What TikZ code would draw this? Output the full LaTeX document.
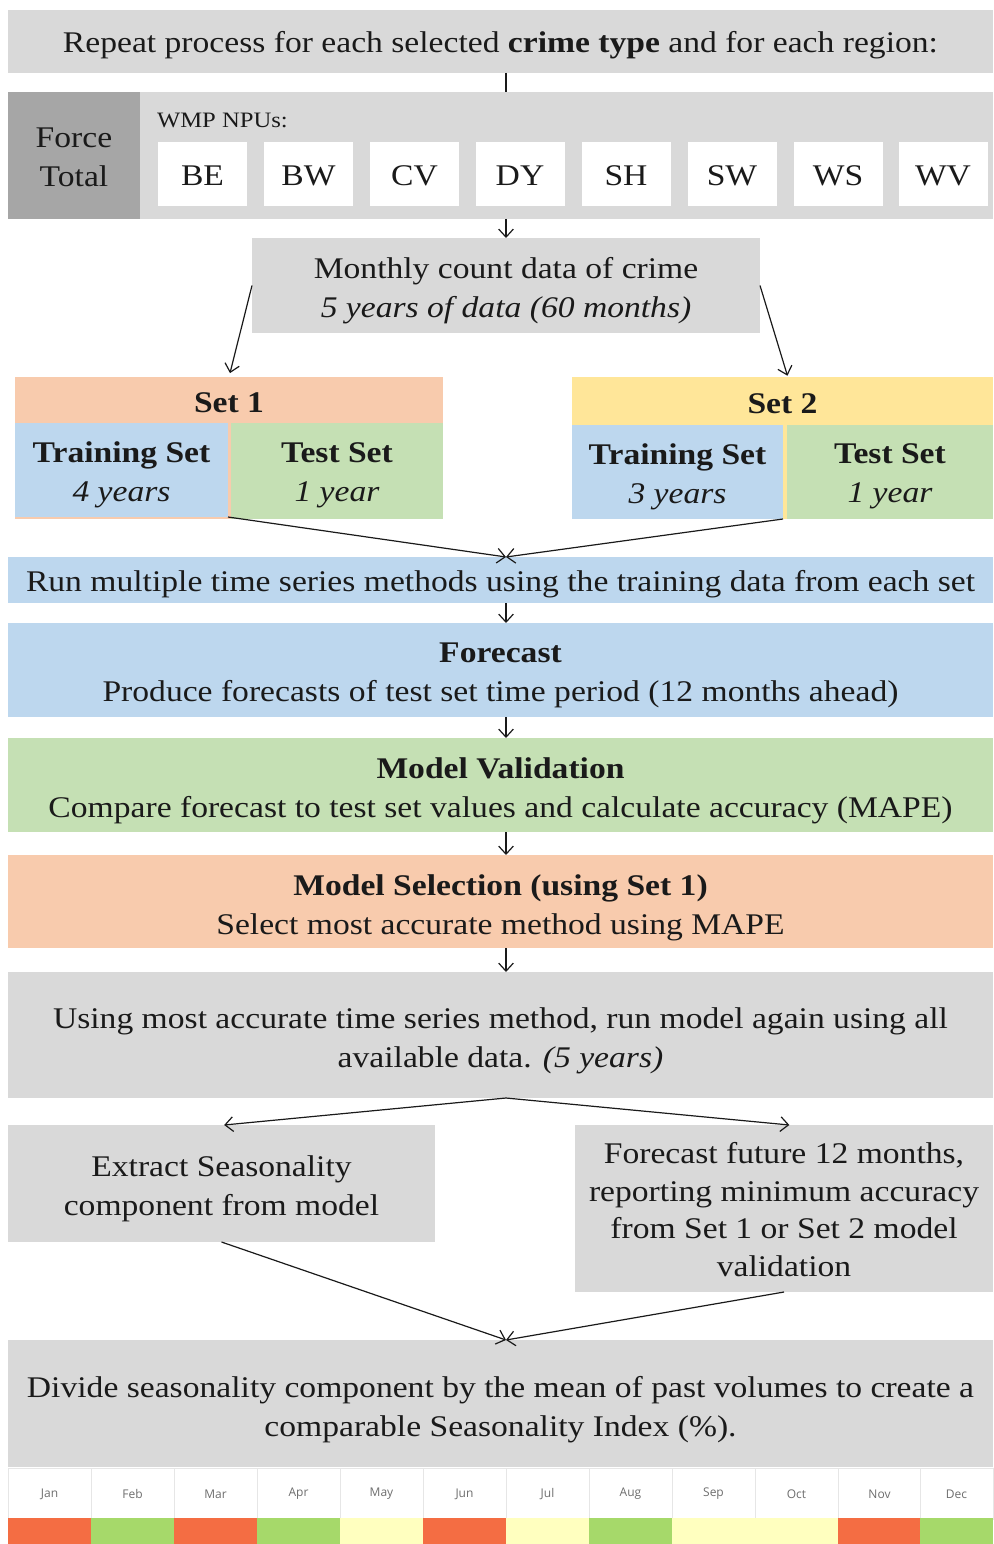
\documentclass[tikz,border=0pt]{standalone}
\usepackage{fontspec}
\setmainfont{Liberation Serif}[FakeStretch=1.12]
\newfontfamily\monthfont{Open Sans}
\usetikzlibrary{arrows.meta,calc}
\definecolor{lgray}{HTML}{D9D9D9}
\definecolor{dgray}{HTML}{A6A6A6}
\definecolor{peach}{HTML}{F8CBAD}
\definecolor{lblue}{HTML}{BDD7EE}
\definecolor{lgreen}{HTML}{C5E0B4}
\definecolor{lyellow}{HTML}{FFE699}
\definecolor{cred}{HTML}{F46D43}
\definecolor{cgreen}{HTML}{A6D96A}
\definecolor{cyel}{HTML}{FFFFBF}
\definecolor{ink}{HTML}{1A1A1A}
\definecolor{mgray}{HTML}{6E6E6E}
\definecolor{cellline}{HTML}{E6E6E6}
\newcommand{\mainsz}{\fontsize{22.5}{29.25}\selectfont}
\tikzset{
  box/.style={inner sep=0pt, outer sep=0pt},
  t/.style={inner sep=0pt, outer sep=0pt, align=center, text=ink, font=\mainsz, yshift=#1},
  t/.default=-3.75pt,
  arr/.style={draw=ink, line width=0.9pt, -{Straight Barb[length=6pt,width=11pt,line width=0.9pt]}},
  plain/.style={draw=ink, line width=0.9pt},
  npubox/.style={box, fill=white, minimum width=66.75pt, minimum height=48pt},
  monthcell/.style={inner sep=0pt, outer sep=0pt, fill=white, draw=cellline, line width=0.6pt, minimum height=38.25pt, font=\monthfont\fontsize{9}{10}\selectfont, text=mgray},
  colcell/.style={inner sep=0pt, outer sep=0pt, minimum height=19.5pt}
}
\begin{document}
\begin{tikzpicture}[x=0.75pt,y=-0.75pt]
\useasboundingbox (0,0) rectangle (993,1544);
% top
\node[box, fill=lgray, minimum width=738.75pt, minimum height=47.25pt] (top) at (500.5,41.5) {};
\node[t=-3pt] (top-t) at (top) {Repeat process for each selected \textbf{crime type} and for each region:};
% force / npu
\node[box, fill=dgray, minimum width=99pt, minimum height=95.25pt] (force) at (74,155.5) {};
\node[t=-1.5pt] (force-t) at (force) {Force\\Total};
\node[box, fill=lgray, minimum width=639.75pt, minimum height=95.25pt] (npu) at (566.5,155.5) {};
\node[t=0pt, anchor=west, font=\fontsize{16.5}{18}\selectfont] (wmp) at (157,120) {WMP NPUs:};
\foreach \n/\x in {BE/202.5,BW/308.5,CV/414.5,DY/520,SH/626,SW/732,WS/838,WV/943}{
  \node[npubox] (\n) at (\x,174) {};
  \node[t=-1.5pt] (\n-t) at (\n) {\n};
}
% monthly
\node[box, fill=lgray, minimum width=381pt, minimum height=71.25pt] (monthly) at (506,285.5) {};
\node[t] (monthly-t) at (monthly) {Monthly count data of crime\\\textit{5 years of data (60 months)}};
% set 1
\fill[peach] (15,377) rectangle (443,519);
\node[box, fill=peach, minimum width=321pt, minimum height=34.5pt] (s1h) at (229,400) {};
\node[t=-2.25pt] (s1h-t) at (s1h) {\textbf{Set 1}};
\node[box, fill=lblue, minimum width=159.75pt, minimum height=70.5pt] (train1) at (121.5,470) {};
\node[t=-3.4pt] (train1-t) at (train1) {\textbf{Training Set}\\\textit{4 years}};
\node[box, fill=lgreen, minimum width=159pt, minimum height=72pt] (test1) at (337,471) {};
\node[t=-3.4pt] (test1-t) at (test1) {\textbf{Test Set}\\\textit{1 year}};
% set 2
\fill[lyellow] (572,377) rectangle (993,519);
\node[box, fill=lyellow, minimum width=315.75pt, minimum height=36pt] (s2h) at (782.5,401) {};
\node[t=-2.25pt] (s2h-t) at (s2h) {\textbf{Set 2}};
\node[box, fill=lblue, minimum width=158.25pt, minimum height=70.5pt] (train2) at (677.5,472) {};
\node[t=-3.4pt] (train2-t) at (train2) {\textbf{Training Set}\\\textit{3 years}};
\node[box, fill=lgreen, minimum width=154.5pt, minimum height=70.5pt] (test2) at (890,472) {};
\node[t=-3.4pt] (test2-t) at (test2) {\textbf{Test Set}\\\textit{1 year}};
% main flow
\node[box, fill=lblue, minimum width=738.75pt, minimum height=34.5pt] (run) at (500.5,580) {};
\node[t=-3pt] (run-t) at (run) {Run multiple time series methods using the training data from each set};
\node[box, fill=lblue, minimum width=738.75pt, minimum height=70.5pt] (forecast) at (500.5,670) {};
\node[t] (forecast-t) at (forecast) {\textbf{Forecast}\\Produce forecasts of test set time period (12 months ahead)};
\node[box, fill=lgreen, minimum width=738.75pt, minimum height=70.5pt] (valid) at (500.5,785) {};
\node[t=-4.5pt] (valid-t) at (valid) {\textbf{Model Validation}\\Compare forecast to test set values and calculate accuracy (MAPE)};
\node[box, fill=peach, minimum width=738.75pt, minimum height=69.75pt] (select) at (500.5,901.5) {};
\node[t=-4.5pt] (select-t) at (select) {\textbf{Model Selection (using Set 1)}\\Select most accurate method using MAPE};
\node[box, fill=lgray, minimum width=738.75pt, minimum height=94.5pt] (using) at (500.5,1035) {};
\node[t=-4.5pt] (using-t) at (using) {Using most accurate time series method, run model again using all\\available data. \textit{(5 years)}};
\node[box, fill=lgray, minimum width=320.25pt, minimum height=87.75pt] (extract) at (221.5,1183.5) {};
\node[t] (extract-t) at (extract) {Extract Seasonality\\component from model};
\node[box, fill=lgray, minimum width=313.5pt, minimum height=125.25pt] (future) at (784,1208.5) {};
\node[t=-0.75pt, font=\fontsize{22.5}{28.25}\selectfont] (future-t) at (future) {Forecast future 12 months,\\reporting minimum accuracy\\from Set 1 or Set 2 model\\validation};
\node[box, fill=lgray, minimum width=738.75pt, minimum height=95.25pt] (divide) at (500.5,1403.5) {};
\node[t=-4.9pt] (divide-t) at (divide) {Divide seasonality component by the mean of past volumes to create a\\comparable Seasonality Index (\%).};
% months
\foreach \m/\c [count=\i] in {Jan/cred,Feb/cgreen,Mar/cred,Apr/cgreen,May/cyel,Jun/cred,Jul/cyel,Aug/cgreen,Sep/cyel,Oct/cyel,Nov/cred,Dec/cgreen}{
  \pgfmathsetmacro{\cx}{\i<12 ? 8+83*(\i-1)+41.5 : 956.5}
  \pgfmathsetmacro{\cw}{\i<12 ? 62.25 : 54.75}
  \node[monthcell, minimum width=\cw pt] (m\i) at (\cx,1494) {\m};
  \node[colcell, fill=\c, minimum width=\cw pt] (c\i) at (\cx,1531) {};
}
% connectors
\draw[plain] (top.south -| monthly) -- (npu.north -| monthly);
\draw[arr] (npu.south -| monthly) -- (monthly.north);
\draw[arr, shorten >=3pt] (monthly.west) -- (s1h.north);
\draw[arr, shorten >=1pt] (monthly.east) -- ([xshift=4pt]s2h.north);
\draw[arr] (train1.south east) -- (run.north -| monthly);
\draw[arr] (train2.south east) -- (run.north -| monthly);
\draw[arr] (run.south -| monthly) -- (forecast.north -| monthly);
\draw[arr] (forecast.south -| monthly) -- (valid.north -| monthly);
\draw[arr] (valid.south -| monthly) -- (select.north -| monthly);
\draw[arr] (select.south -| monthly) -- (using.north -| monthly);
\draw[arr] (using.south -| monthly) -- ([xshift=2pt]extract.north);
\draw[arr] (using.south -| monthly) -- ([xshift=4pt]future.north);
\draw[arr] (extract.south) -- (divide.north -| monthly);
\draw[arr] (future.south) -- (divide.north -| monthly);
\end{tikzpicture}
\end{document}
